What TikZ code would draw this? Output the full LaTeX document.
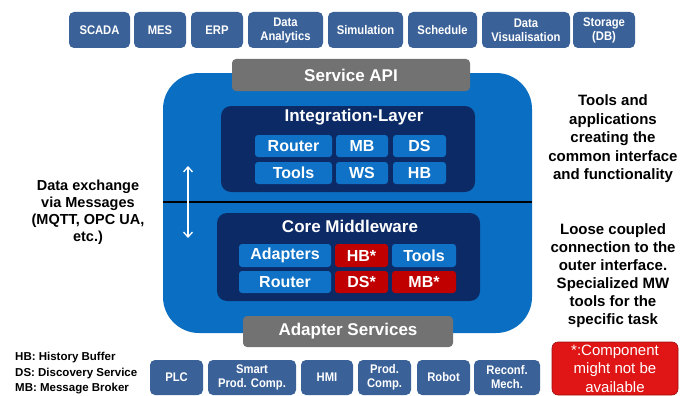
\documentclass[tikz,border=0pt]{standalone}
\usepackage{fontspec}
\setmainfont{Liberation Sans}
\newfontfamily\narrowfont[FakeStretch=0.9]{Liberation Sans}
\usetikzlibrary{arrows.meta}
\definecolor{topblue}{HTML}{3A6198}
\definecolor{bigblue}{HTML}{0A6FC2}
\definecolor{navy}{HTML}{0B2A66}
\definecolor{innerblue}{HTML}{0F72C6}
\definecolor{darkred}{HTML}{C00000}
\definecolor{apigray}{HTML}{727272}
\definecolor{notered}{HTML}{E01515}
\tikzset{
  appbox/.style={fill=topblue, rounded corners=5pt, text=white, align=center, inner sep=0pt,
    font=\narrowfont\bfseries\fontsize{12.5}{14}\selectfont},
  graybar/.style={fill=apigray, rounded corners=4pt, text=white, inner sep=0pt,
    font=\bfseries\fontsize{17}{20}\selectfont},
  layerbox/.style={fill=navy, rounded corners=10pt, inner sep=0pt},
  layertitle/.style={text=white, inner sep=0pt, font=\bfseries\fontsize{17}{20}\selectfont},
  compbox/.style={fill=innerblue, rounded corners=3pt, text=white, inner sep=0pt,
    font=\bfseries\fontsize{16}{18}\selectfont},
  redcomp/.style={compbox, fill=darkred},
  sidetext/.style={align=center, inner sep=0pt, text=black},
  notebox/.style={fill=notered, draw=notered!70!black, line width=0.6pt, rounded corners=6pt,
    text=white, align=center, inner sep=0pt, font=\fontsize{15}{18.5}\selectfont},
}
\begin{document}
\begin{tikzpicture}[x=1pt,y=-1pt]
\useasboundingbox (0,0) rectangle (693,396);
% top application boxes
\node[appbox, minimum width=61, minimum height=36] (scada) at (99.5,30) {SCADA};
\node[appbox, minimum width=52, minimum height=36] (mes) at (160,30) {MES};
\node[appbox, minimum width=52, minimum height=36] (erp) at (217,30) {ERP};
\node[appbox, minimum width=75, minimum height=36] (da) at (285.5,30) {Data\\Analytics};
\node[appbox, minimum width=75, minimum height=36] (sim) at (365.5,30) {Simulation};
\node[appbox, minimum width=69, minimum height=36] (sched) at (442.5,30) {Schedule};
\node[appbox, minimum width=88, minimum height=36] (dv) at (526,30) {Data\\Visualisation};
\node[appbox, minimum width=62, minimum height=36] (stor) at (604,30) {Storage\\(DB)};
% big middleware body
\node[fill=bigblue, rounded corners=36pt, minimum width=369, minimum height=260, inner sep=0pt] (body) at (347.5,203) {};
\node[graybar, minimum width=238, minimum height=32] (api) at (351,75) {Service API};
% integration layer
\node[layerbox, minimum width=254, minimum height=86] (integ) at (348,149) {};
\node[layertitle] (integt) at (354,117) {Integration-Layer};
\node[compbox, minimum width=77, minimum height=22] (irouter) at (293.5,146) {Router};
\node[compbox, minimum width=52, minimum height=22] (imb) at (362,146) {MB};
\node[compbox, minimum width=53, minimum height=22] (ids) at (419.5,146) {DS};
\node[compbox, minimum width=77, minimum height=22] (itools) at (293.5,173) {Tools};
\node[compbox, minimum width=52, minimum height=22] (iws) at (362,173) {WS};
\node[compbox, minimum width=53, minimum height=22] (ihb) at (419.5,173) {HB};
% separator line
\coordinate (sepL) at (163,202);
\coordinate (sepR) at (532,202);
\draw[black, line width=1.2pt] (sepL) -- (sepR);
% core middleware
\node[layerbox, minimum width=263, minimum height=88] (core) at (348.5,257) {};
\node[layertitle] (coret) at (350,226) {Core Middleware};
\node[compbox, minimum width=92, minimum height=23] (cadapt) at (285,255.5) {Adapters};
\node[redcomp, minimum width=53, minimum height=23] (chb) at (361.5,255.5) {HB*};
\node[compbox, minimum width=64, minimum height=23] (ctools) at (424,255.5) {Tools};
\node[compbox, minimum width=92, minimum height=22] (crouter) at (285,282) {Router};
\node[redcomp, minimum width=53, minimum height=22] (cds) at (361.5,282) {DS*};
\node[redcomp, minimum width=64, minimum height=22] (cmb) at (424,282) {MB*};
\node[graybar, minimum width=210, minimum height=31] (adsvc) at (348,331.5) {Adapter Services};
% message exchange arrow
\coordinate (arrT) at (188,166);
\coordinate (arrB) at (188,238);
\draw[white, line width=1.3pt, {Straight Barb[length=5pt,width=9pt]}-{Straight Barb[length=5pt,width=9pt]}] (arrT) -- (arrB);
% side texts
\node[sidetext, font=\bfseries\fontsize{14.5}{17}\selectfont] (lefttxt) at (88,212)
  {Data exchange\\via Messages\\(MQTT, OPC UA,\\etc.)};
\node[sidetext, font=\bfseries\fontsize{15}{18.5}\selectfont] (righttop) at (613,139)
  {Tools and\\applications\\creating the\\common interface\\and functionality};
\node[sidetext, font=\bfseries\fontsize{15}{18}\selectfont] (rightbot) at (613,276)
  {Loose coupled\\connection to the\\outer interface.\\Specialized MW\\tools for the\\specific task};
% legend
\node[anchor=north west, align=left, inner sep=0pt, font=\bfseries\fontsize{11.5}{15.5}\selectfont] (legend) at (15,352)
  {HB: History Buffer\\DS: Discovery Service\\MB: Message Broker};
% bottom device boxes
\node[appbox, minimum width=53, minimum height=35] (plc) at (176.5,377.5) {PLC};
\node[appbox, minimum width=88, minimum height=35] (smart) at (252,377.5) {Smart\\Prod. Comp.};
\node[appbox, minimum width=52, minimum height=35] (hmi) at (327,377.5) {HMI};
\node[appbox, minimum width=53, minimum height=35] (prod) at (384.5,377.5) {Prod.\\Comp.};
\node[appbox, minimum width=53, minimum height=35] (robot) at (443.5,377.5) {Robot};
\node[appbox, minimum width=66, minimum height=35] (reconf) at (507,377.5) {Reconf.\\Mech.};
% note
\node[notebox, minimum width=126, minimum height=53] (note) at (615,368.5)
  {*:Component\\might not be\\available};
\end{tikzpicture}
\end{document}
